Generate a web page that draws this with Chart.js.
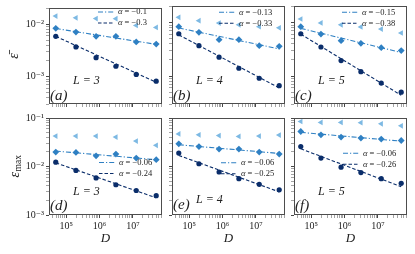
<!DOCTYPE html>
<html>
<head>
<meta charset="utf-8">
<script src="https://cdn.jsdelivr.net/npm/chart.js@4.4.1/dist/chart.umd.min.js"></script>
<style>
  html, body { margin: 0; padding: 0; background: #fff; }
  #fig { position: relative; width: 415px; height: 254px; overflow: hidden; }
  #fig canvas { position: absolute; left: 0; top: 0; }
</style>
</head>
<body>
<div id="fig"></div>
<script>
// values
const D = [4.9e4, 1.97e5, 7.9e5, 3.1e6, 1.26e7, 5.0e7];
const sizes = [3, 4, 5];

// mean error (top row), one list per L
const meanTri = [
  [0.0144, 0.0133, 0.0129, 0.0128, 0.0095, 0.0087],
  [0.0126, 0.0109, 0.0098, 0.0091, 0.0084, 0.0080],
  [0.0117, 0.0099, 0.0091, 0.0083, 0.0076, 0.0064]
];
const meanDia = [
  [0.0084, 0.0071, 0.0059, 0.0059, 0.0046, 0.0042],
  [0.0084, 0.0066, 0.0048, 0.0048, 0.0037, 0.0036],
  [0.0084, 0.0061, 0.0046, 0.0041, 0.0034, 0.0030]
];
const meanDot = [
  [0.0059, 0.0037, 0.0023, 0.00158, 0.0011, 0.00082],
  [0.0062, 0.0037, 0.00226, 0.0014, 0.00091, 0.00066],
  [0.0062, 0.0035, 0.00195, 0.00121, 0.00074, 0.0005]
];
// max error (bottom row)
const maxTri = [
  [0.0425, 0.0425, 0.0425, 0.0404, 0.0335, 0.0273],
  [0.047, 0.045, 0.0435, 0.0417, 0.0424, 0.0445],
  [0.0847, 0.081, 0.081, 0.080, 0.076, 0.069]
];
const maxDia = [
  [0.0198, 0.0195, 0.0166, 0.018, 0.0149, 0.0138],
  [0.0294, 0.0258, 0.0229, 0.0229, 0.0198, 0.018],
  [0.0527, 0.045, 0.0404, 0.0385, 0.0367, 0.0344]
];
const maxDot = [
  [0.0123, 0.0083, 0.0058, 0.0042, 0.0032, 0.0025],
  [0.0189, 0.0114, 0.0077, 0.0056, 0.0043, 0.0033],
  [0.0258, 0.0149, 0.0097, 0.0075, 0.0056, 0.0045]
];
// power-law fits, value at first and last D
const fitDiaMean = [[0.0083, 0.00414], [0.00794, 0.00323], [0.00782, 0.00276]];
const fitDotMean = [[0.00589, 0.00078], [0.0059, 0.0006], [0.00608, 0.000437]];
const fitDiaMax = [[0.0208, 0.0138], [0.0281, 0.0186], [0.0505, 0.0333]];
const fitDotMax = [[0.0119, 0.00226], [0.0169, 0.0030], [0.0232, 0.00384]];
const alphaDia = ['−0.1', '−0.13', '−0.15', '−0.06', '−0.06', '−0.06'];
const alphaDot = ['−0.3', '−0.33', '−0.38', '−0.24', '−0.25', '−0.26'];
const panelTags = ['(a)', '(b)', '(c)', '(d)', '(e)', '(f)'];
const xRange = [3.07e4, 7.45e7];
const yRanges = [[3.02e-4, 2.05e-2], [1e-3, 1e-1]];

// layout
const colLeft = [49, 172, 294];
const panelW = 113;
const rowTop = [6, 118];
const rowBottom = [104, 215];
const legendX = [98, 219, 342, 99, 221, 343];
const legendY = [12, 12.3, 12.3, 162.5, 162.7, 153.3];
const sizeLabelY = [81, 81, 81, 192, 200, 192];
const tagY = [96, 96, 96, 206, 205, 206];

const cTri = '#7db9e3', cDia = '#2f80c3', cDot = '#0a2d6a';
const SERIF = '"Liberation Serif", "DejaVu Serif", serif';
const dashDot = [5, 2, 1.2, 2], dashed = [3.5, 2];

const supMap = {'-': '⁻', '0': '⁰', '1': '¹', '2': '²', '3': '³', '4': '⁴', '5': '⁵', '6': '⁶', '7': '⁷', '8': '⁸', '9': '⁹'};
const isDecade = v => Math.abs(Math.log10(v) - Math.round(Math.log10(v))) < 1e-9;
const powLabel = v => '10' + String(Math.round(Math.log10(v))).split('').map(ch => supMap[ch]).join('');

function logTicks(min, max) {
  const out = [];
  for (let e = Math.floor(Math.log10(min)); e <= Math.ceil(Math.log10(max)); e++) {
    for (let m = 1; m <= 9; m++) {
      const v = parseFloat((m * Math.pow(10, e)).toPrecision(6));
      if (v >= min * (1 - 1e-9) && v <= max * (1 + 1e-9)) out.push({ value: v, major: m === 1 });
    }
  }
  return out;
}

function drawPanelText(ctx, text, x, y, font, align) {
  ctx.font = font;
  ctx.textAlign = align || 'left';
  ctx.textBaseline = 'middle';
  ctx.fillText(text, x, y);
}

const deco = {
  id: 'deco',
  afterDatasetsDraw(chart, args, o) {
    const ctx = chart.ctx, a = chart.chartArea;
    const i = o.index, r = Math.floor(i / 3), c = i % 3;
    ctx.save();
    ctx.fillStyle = '#222';

    // legend
    const rows = [[alphaDia[i], cDia, dashDot], [alphaDot[i], cDot, dashed]];
    rows.forEach(([al, col, dash], k) => {
      const y = legendY[i] + k * 11;
      ctx.strokeStyle = col; ctx.lineWidth = 1.1; ctx.setLineDash(dash);
      ctx.beginPath(); ctx.moveTo(legendX[i], y); ctx.lineTo(legendX[i] + 16, y); ctx.stroke();
      ctx.setLineDash([]);
      let x = legendX[i] + 20;
      ctx.font = 'italic 8.5px ' + SERIF; ctx.textAlign = 'left'; ctx.textBaseline = 'middle';
      ctx.fillText('α', x, y);
      x += ctx.measureText('α').width;
      ctx.font = '8.5px ' + SERIF;
      ctx.fillText(' = ' + al, x, y);
    });

    // L label and panel tag
    drawPanelText(ctx, 'L = ' + sizes[c], a.left + 24, sizeLabelY[i], 'italic 12px ' + SERIF);
    drawPanelText(ctx, panelTags[i], a.left + 1, tagY[i], 'italic 15px ' + SERIF);

    // axis titles
    if (r === 1) {
      drawPanelText(ctx, 'D', (a.left + a.right) / 2, 239, 'italic 13px ' + SERIF, 'center');
    }
    if (c === 0) {
      ctx.save();
      if (r === 0) {
        ctx.translate(14, (a.top + a.bottom) / 2);
        ctx.rotate(-Math.PI / 2);
        drawPanelText(ctx, 'ε̄', 0, 0, 'italic 14px ' + SERIF, 'center');
      } else {
        ctx.translate(15, (a.top + a.bottom) / 2);
        ctx.rotate(-Math.PI / 2);
        ctx.font = 'italic 14px ' + SERIF;
        const w1 = ctx.measureText('ε').width;
        ctx.font = '9.5px ' + SERIF;
        const w2 = ctx.measureText('max').width;
        const x0 = -(w1 + w2) / 2;
        drawPanelText(ctx, 'ε', x0, 0, 'italic 14px ' + SERIF);
        drawPanelText(ctx, 'max', x0 + w1 + 0.5, 3, '9.5px ' + SERIF);
      }
      ctx.restore();
    }

    // frame
    ctx.strokeStyle = '#4d4d4d'; ctx.lineWidth = 1;
    ctx.strokeRect(a.left + 0.5, a.top + 0.5, a.right - a.left - 1, a.bottom - a.top - 1);
    ctx.restore();
  }
};

function points(vals) { return D.map((d, k) => ({ x: d, y: vals[k] })); }
function fitLine(ends) { return [{ x: D[0], y: ends[0] }, { x: D[D.length - 1], y: ends[1] }]; }

function axisOpts(range, showLabels, fixSize, horizontal) {
  return {
    type: 'logarithmic',
    min: range[0], max: range[1],
    afterBuildTicks: s => { s.ticks = logTicks(s.min, s.max); },
    afterFit: s => { if (horizontal) s.height = fixSize; else s.width = fixSize; },
    border: { display: false },
    grid: {
      drawOnChartArea: false, drawTicks: true, tickLength: 3,
      tickColor: ctx => (ctx.tick && ctx.tick.major) ? '#333' : '#666',
      tickWidth: ctx => (ctx.tick && ctx.tick.major) ? 0.9 : 0.6
    },
    ticks: {
      display: showLabels, autoSkip: false, maxRotation: 0, padding: 2,
      color: '#222', font: { family: SERIF, size: 10 },
      callback: v => isDecade(v) ? powLabel(v) : ''
    }
  };
}

const fig = document.getElementById('fig');

for (let r = 0; r < 2; r++) {
  for (let c = 0; c < 3; c++) {
    const i = r * 3 + c;
    const cv = document.createElement('canvas');
    cv.width = 415; cv.height = 254;
    cv.style.width = '415px'; cv.style.height = '254px';
    fig.appendChild(cv);

    const tri = r === 0 ? meanTri[c] : maxTri[c];
    const dia = r === 0 ? meanDia[c] : maxDia[c];
    const dot = r === 0 ? meanDot[c] : maxDot[c];
    const fDia = r === 0 ? fitDiaMean[c] : fitDiaMax[c];
    const fDot = r === 0 ? fitDotMean[c] : fitDotMax[c];

    const left = colLeft[c], right = left + panelW;
    const yW = 30, xH = r === 1 ? 39 : 6;

    new Chart(cv, {
      type: 'scatter',
      data: {
        datasets: [
          { data: points(tri), pointStyle: 'triangle', rotation: -90, pointRadius: 3.3,
            backgroundColor: cTri, borderWidth: 0, showLine: false, order: 1 },
          { data: points(dia), pointStyle: 'rectRot', pointRadius: 3.4,
            backgroundColor: cDia, borderWidth: 0, showLine: false, order: 1 },
          { data: points(dot), pointStyle: 'circle', pointRadius: 2.6,
            backgroundColor: cDot, borderWidth: 0, showLine: false, order: 1 },
          { data: fitLine(fDia), showLine: true, borderColor: cDia, borderWidth: 1.1,
            borderDash: dashDot, pointRadius: 0, order: 2 },
          { data: fitLine(fDot), showLine: true, borderColor: cDot, borderWidth: 1.1,
            borderDash: dashed, pointRadius: 0, order: 2 }
        ]
      },
      options: {
        responsive: false,
        animation: false,
        devicePixelRatio: 1,
        layout: {
          autoPadding: false,
          padding: { left: left - yW, top: rowTop[r], right: 415 - right, bottom: 254 - rowBottom[r] - xH }
        },
        plugins: { legend: { display: false }, tooltip: { enabled: false }, deco: { index: i } },
        scales: {
          x: axisOpts(xRange, r === 1, xH, true),
          y: axisOpts(yRanges[r], c === 0, yW, false)
        }
      },
      plugins: [deco]
    });
  }
}
</script>
</body>
</html>
